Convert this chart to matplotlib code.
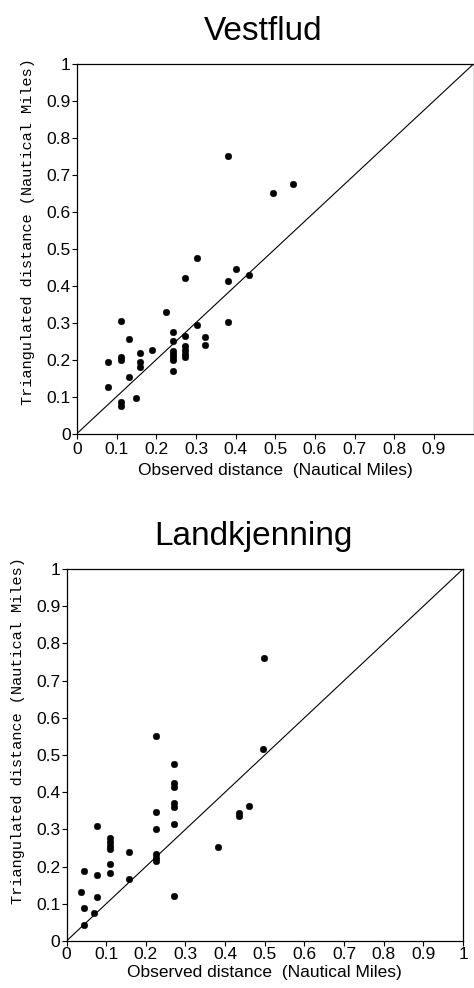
import matplotlib
matplotlib.use("Agg")
import matplotlib.pyplot as plt
from matplotlib.ticker import FixedLocator, FuncFormatter

# ---- data ----
vest_obs = [0.078, 0.078, 0.111, 0.111, 0.111, 0.111, 0.111, 0.131, 0.131, 0.150,
            0.159, 0.159, 0.159, 0.190, 0.224, 0.243, 0.243, 0.243, 0.243, 0.243,
            0.243, 0.243, 0.272, 0.272, 0.272, 0.272, 0.272, 0.272, 0.303, 0.303,
            0.322, 0.322, 0.382, 0.382, 0.382, 0.402, 0.433, 0.494, 0.544]
vest_tri = [0.193, 0.125, 0.304, 0.208, 0.199, 0.084, 0.074, 0.255, 0.154, 0.097,
            0.219, 0.193, 0.181, 0.226, 0.330, 0.276, 0.251, 0.222, 0.214, 0.207,
            0.200, 0.169, 0.421, 0.264, 0.236, 0.227, 0.216, 0.206, 0.476, 0.293,
            0.260, 0.240, 0.750, 0.412, 0.301, 0.446, 0.428, 0.650, 0.676]

land_obs = [0.037, 0.045, 0.045, 0.045, 0.069, 0.078, 0.078, 0.078,
            0.110, 0.110, 0.110, 0.110, 0.110, 0.110, 0.158, 0.158,
            0.225, 0.225, 0.225, 0.225, 0.225, 0.225,
            0.272, 0.272, 0.272, 0.272, 0.272, 0.272, 0.270,
            0.382, 0.434, 0.434, 0.461, 0.496, 0.497]
land_tri = [0.133, 0.189, 0.090, 0.043, 0.076, 0.310, 0.177, 0.118,
            0.277, 0.266, 0.256, 0.246, 0.206, 0.182, 0.238, 0.167,
            0.550, 0.346, 0.300, 0.234, 0.224, 0.215,
            0.476, 0.424, 0.413, 0.372, 0.359, 0.315, 0.122,
            0.254, 0.343, 0.335, 0.362, 0.517, 0.760]

titles = ["Vestflud", "Landkjenning"]
ytick_vals = [0, 0.1, 0.2, 0.3, 0.4, 0.5, 0.6, 0.7, 0.8, 0.9, 1]
xtick_top = [0, 0.1, 0.2, 0.3, 0.4, 0.5, 0.6, 0.7, 0.8, 0.9]
xtick_bot = [0, 0.1, 0.2, 0.3, 0.4, 0.5, 0.6, 0.7, 0.8, 0.9, 1]
xlabel = "Observed distance  (Nautical Miles)"
ylabel = "Triangulated distance (Nautical Miles)"

W, H = 474, 988
fig = plt.figure(figsize=(W / 100, H / 100), dpi=100)

sans = ["Liberation Sans", "DejaVu Sans"]
mono = ["Liberation Mono", "DejaVu Sans Mono"]


def fmt(v, pos=None):
    s = f"{v:.1f}"
    if s.endswith(".0"):
        s = s[:-2]
    return s


def px_axes(l, t, r, b):
    return [l / W, 1 - b / H, (r - l) / W, (b - t) / H]


panels = [
    dict(rect=px_axes(77, 64, 473.5, 433.5), obs=vest_obs, tri=vest_tri,
         xt=xtick_top, title=titles[0], tpos=(263, 40), ylpos=(28, 232), xlpos=475,
         xpad=2.5),
    dict(rect=px_axes(66.5, 569, 463, 941), obs=land_obs, tri=land_tri,
         xt=xtick_bot, title=titles[1], tpos=(253, 545), ylpos=(18, 731), xlpos=977,
         xpad=0.8),
]

for p in panels:
    ax = fig.add_axes(p["rect"])
    ax.set_xlim(0, 1)
    ax.set_ylim(0, 1)
    ax.plot([0, 1], [0, 1], color="black", lw=0.8)
    ax.plot(p["obs"], p["tri"], linestyle="none", marker="o", ms=4.8,
            mfc="black", mec="black", mew=0.3)
    ax.xaxis.set_major_locator(FixedLocator(p["xt"]))
    ax.yaxis.set_major_locator(FixedLocator(ytick_vals))
    ax.xaxis.set_major_formatter(FuncFormatter(fmt))
    ax.yaxis.set_major_formatter(FuncFormatter(fmt))
    ax.tick_params(axis="both", direction="out", length=3.5, width=0.8,
                   labelsize=12.5, colors="black")
    ax.tick_params(axis="y", pad=1)
    ax.tick_params(axis="x", pad=p["xpad"])
    for lab in ax.get_xticklabels() + ax.get_yticklabels():
        lab.set_family(sans)
    for sp in ax.spines.values():
        sp.set_linewidth(0.9)
        sp.set_color("black")
    fig.text(p["tpos"][0] / W, 1 - p["tpos"][1] / H, p["title"], ha="center",
             va="baseline", fontsize=24, family=sans)
    fig.text(p["ylpos"][0] / W, 1 - p["ylpos"][1] / H, ylabel, rotation=90,
             ha="center", va="center", fontsize=11, family=mono)
    fig.text(((p["rect"][0] + p["rect"][2] / 2)), 1 - p["xlpos"] / H, xlabel,
             ha="center", va="baseline", fontsize=12.5, family=sans)

fig.savefig("out.png", dpi=100, facecolor="white")
